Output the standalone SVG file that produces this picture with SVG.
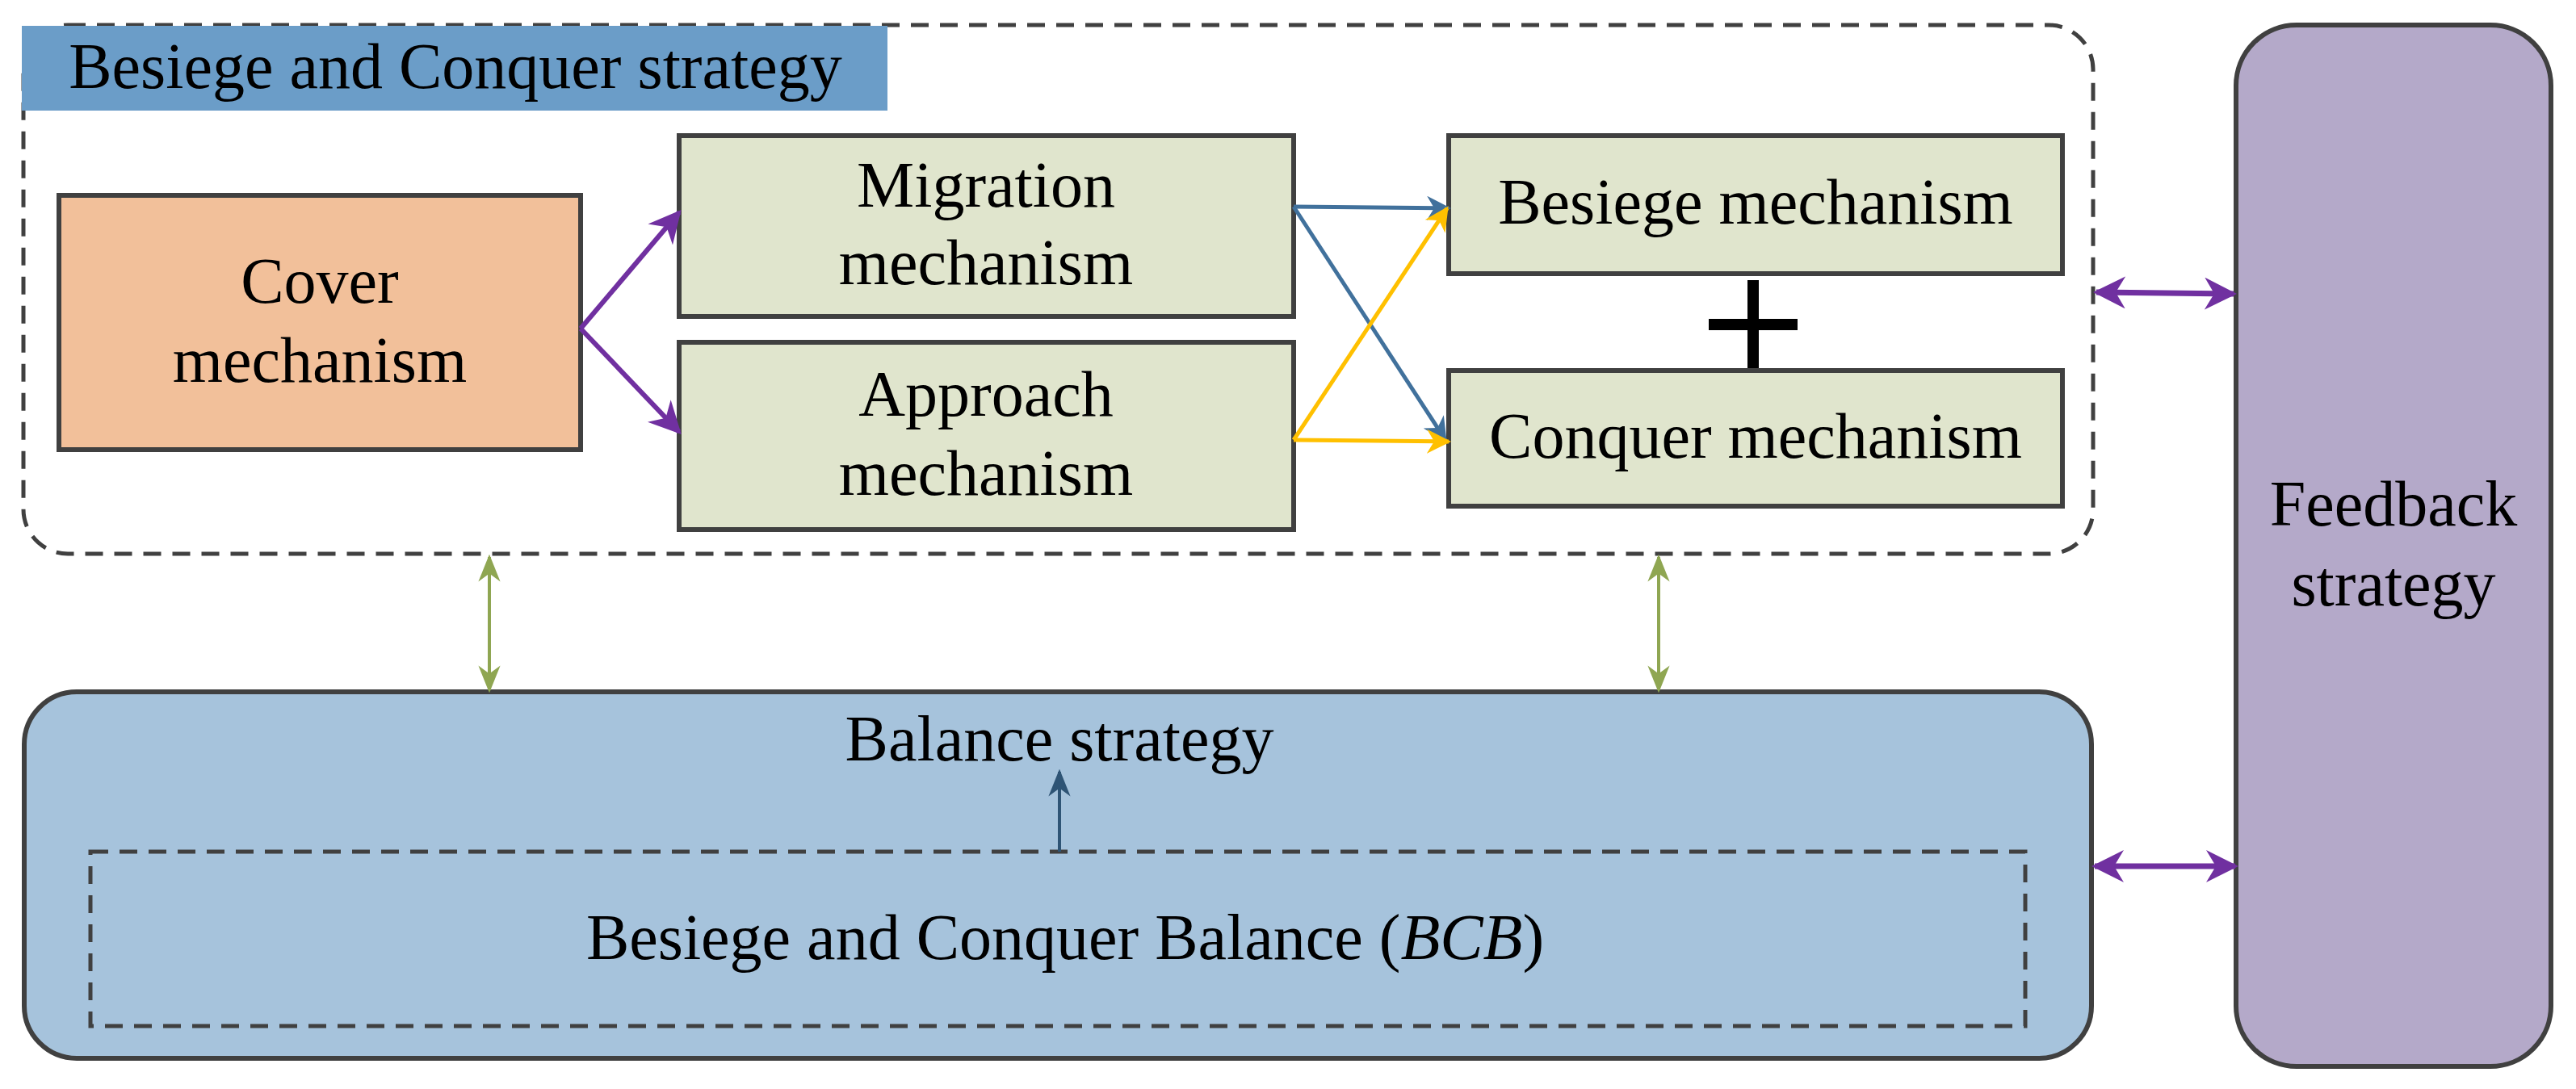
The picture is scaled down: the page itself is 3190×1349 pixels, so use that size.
<svg xmlns="http://www.w3.org/2000/svg" width="3190" height="1349" viewBox="0 0 3190 1349">
<defs>
<style>
text{font-family:"Liberation Serif","Times New Roman",serif;font-size:80px;fill:#000;text-anchor:middle}
.box{stroke:#404040;stroke-width:6}
.dash{fill:none;stroke:#404040;stroke-width:5;stroke-dasharray:22 14}
</style>
<marker id="ap" viewBox="0 0 10 10" refX="9" refY="5" markerWidth="6" markerHeight="6" orient="auto-start-reverse" markerUnits="userSpaceOnUse" style="overflow:visible"><path d="M0,0 L10,5 L0,10 L3,5 Z" fill="#7030a0" transform="scale(3.2)"/></marker>
<marker id="ab" viewBox="0 0 10 10" refX="9" refY="5" markerWidth="30" markerHeight="30" orient="auto" markerUnits="userSpaceOnUse"><path d="M0,0 L10,5 L0,10 L3,5 Z" fill="#41719c"/></marker>
<marker id="ay" viewBox="0 0 10 10" refX="9" refY="5" markerWidth="30" markerHeight="30" orient="auto" markerUnits="userSpaceOnUse"><path d="M0,0 L10,5 L0,10 L3,5 Z" fill="#ffc000"/></marker>
<marker id="ag" viewBox="0 0 10 10" refX="9" refY="5" markerWidth="34" markerHeight="34" orient="auto-start-reverse" markerUnits="userSpaceOnUse"><path d="M0,1 L10,5 L0,9 L3,5 Z" fill="#8fa652"/></marker>
<marker id="ad" viewBox="0 0 10 10" refX="9" refY="5" markerWidth="34" markerHeight="34" orient="auto" markerUnits="userSpaceOnUse"><path d="M0,1 L10,5 L0,9 L3,5 Z" fill="#2e5475"/></marker>
<marker id="pp" viewBox="0 0 10 10" refX="9" refY="5" markerWidth="40" markerHeight="40" orient="auto-start-reverse" markerUnits="userSpaceOnUse"><path d="M0,0 L10,5 L0,10 L3,5 Z" fill="#7030a0"/></marker>
</defs>
<rect width="3190" height="1349" fill="#fff"/>
<g id="bc-strategy">
<rect class="dash" x="29" y="31" width="2563" height="655" rx="55"/>
<rect x="27" y="32" width="1072" height="105" fill="#6b9dc8"/>
<text x="564" y="109">Besiege and Conquer strategy</text>
</g>
<g id="cover"><rect class="box" x="73" y="242" width="646" height="315" fill="#f2c09a"/><text x="396" y="375">Cover</text><text x="396" y="473">mechanism</text></g>
<g id="migration"><rect class="box" x="841" y="168" width="761" height="224" fill="#e0e5cd"/><text x="1221" y="256">Migration</text><text x="1221" y="352">mechanism</text></g>
<g id="approach"><rect class="box" x="841" y="424" width="761" height="232" fill="#e0e5cd"/><text x="1221" y="515">Approach</text><text x="1221" y="613">mechanism</text></g>
<g id="besiege"><rect class="box" x="1794" y="168" width="760" height="171" fill="#e0e5cd"/><text x="2174" y="277">Besiege mechanism</text></g>
<g id="conquer"><rect class="box" x="1794" y="459" width="760" height="168" fill="#e0e5cd"/><text x="2174" y="567">Conquer mechanism</text></g>
<g id="plus"><rect x="2164" y="347" width="14" height="109" fill="#000"/><rect x="2116" y="395" width="110" height="14" fill="#000"/></g>
<g id="feedback"><rect class="box" x="2769" y="31" width="390" height="1290" rx="75" fill="#b4a9c9" stroke-width="5"/><text x="2964" y="651">Feedback</text><text x="2964" y="750">strategy</text></g>
<g id="balance">
<rect class="box" x="30" y="857" width="2560" height="454" rx="65" fill="#a6c3dc"/>
<text x="1312" y="942">Balance strategy</text>
<rect class="dash" x="112" y="1055" width="2396" height="216"/>
<text x="1319" y="1188">Besiege and Conquer Balance (<tspan font-style="italic">BCB</tspan>)</text>
</g>
<g id="connectors" fill="none">
<path d="M719,407 L841,263" stroke="#7030a0" stroke-width="6" marker-end="url(#pp)"/>
<path d="M719,407 L841,535" stroke="#7030a0" stroke-width="6" marker-end="url(#pp)"/>
<path d="M1602,256 L1794,258" stroke="#41719c" stroke-width="5" marker-end="url(#ab)"/>
<path d="M1602,256 L1790,545" stroke="#41719c" stroke-width="5" marker-end="url(#ab)"/>
<path d="M1602,545 L1794,547" stroke="#ffc000" stroke-width="5" marker-end="url(#ay)"/>
<path d="M1602,545 L1792,258" stroke="#ffc000" stroke-width="5" marker-end="url(#ay)"/>
<path d="M2596,362 L2766,364" stroke="#7030a0" stroke-width="7" marker-start="url(#pp)" marker-end="url(#pp)"/>
<path d="M2594,1073 L2768,1073" stroke="#7030a0" stroke-width="7" marker-start="url(#pp)" marker-end="url(#pp)"/>
<path d="M606,690 L606,855" stroke="#8fa652" stroke-width="4" marker-start="url(#ag)" marker-end="url(#ag)"/>
<path d="M2054,690 L2054,855" stroke="#8fa652" stroke-width="4" marker-start="url(#ag)" marker-end="url(#ag)"/>
<path d="M1312,1055 L1312,956" stroke="#2e5475" stroke-width="4" marker-end="url(#ad)"/>
</g>
</svg>
